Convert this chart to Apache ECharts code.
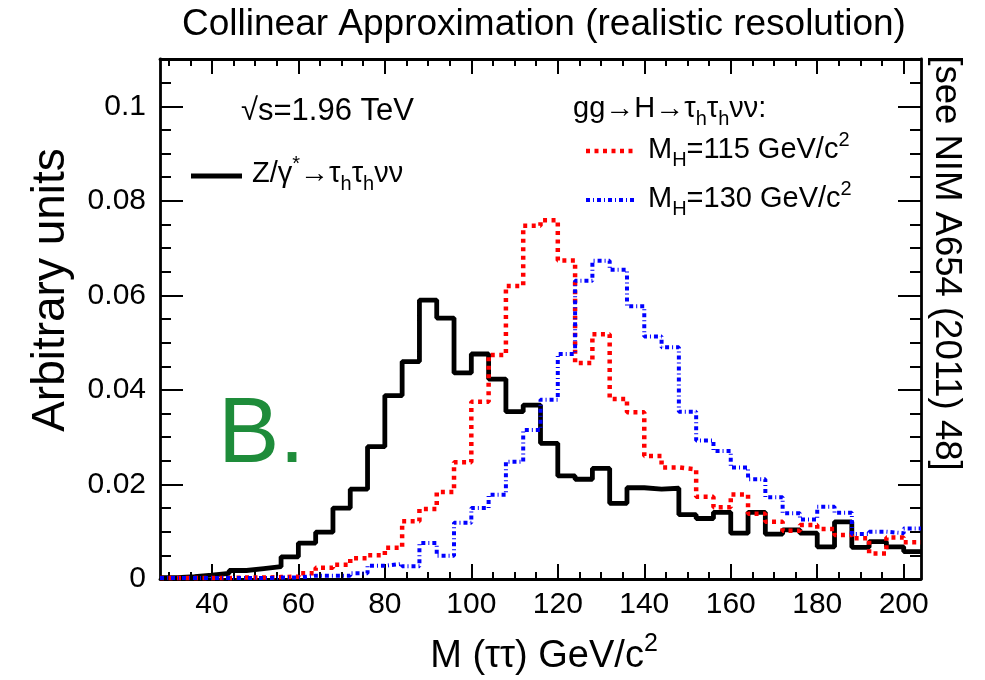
<!DOCTYPE html>
<html><head><meta charset="utf-8">
<script src="https://cdn.jsdelivr.net/npm/echarts@6/dist/echarts.min.js"></script>
<style>html,body{margin:0;padding:0;background:#fff}#c{width:985px;height:680px}</style>
</head><body><div id="c"></div>
<script>
// ---- data (bins of 4 GeV, lower edges) ----
const binLow = [28,32,36,40,44,48,52,56,60,64,68,72,76,80,84,88,92,96,100,104,108,112,116,120,124,128,132,136,140,144,148,152,156,160,164,168,172,176,180,184,188,192,196,200];
const binHigh = 204;
const zBkg = [0.0003,0.0005,0.0008,0.0012,0.0018,0.0022,0.0026,0.0047,0.0076,0.0099,0.0150,0.0190,0.0280,0.0388,0.0460,0.0590,0.0552,0.0436,0.0476,0.0423,0.0354,0.0368,0.0287,0.0218,0.0211,0.0234,0.0160,0.0193,0.0190,0.0192,0.0136,0.0128,0.0141,0.0097,0.0141,0.0095,0.0104,0.0097,0.0068,0.0121,0.0067,0.0079,0.0068,0.0058];
const h115 = [0.0002,0.0002,0.0002,0.0002,0.0003,0.0003,0.0004,0.0005,0.0012,0.0024,0.0030,0.0044,0.0050,0.0066,0.0122,0.0148,0.0184,0.0247,0.0375,0.0474,0.0620,0.0747,0.0759,0.0674,0.0457,0.0518,0.0381,0.0353,0.0260,0.0236,0.0232,0.0174,0.0152,0.0179,0.0138,0.0121,0.0102,0.0114,0.0106,0.0093,0.0086,0.0054,0.0088,0.0078];
const h130 = [0.0002,0.0002,0.0002,0.0002,0.0002,0.0002,0.0003,0.0003,0.0007,0.0007,0.0007,0.0012,0.0028,0.0032,0.0027,0.0076,0.0049,0.0119,0.0150,0.0178,0.0248,0.0315,0.0379,0.0476,0.0631,0.0673,0.0654,0.0577,0.0513,0.0490,0.0354,0.0293,0.0271,0.0236,0.0211,0.0173,0.0139,0.0126,0.0153,0.0140,0.0095,0.0100,0.0097,0.0107];
const xMajorTicks = [40,60,80,100,120,140,160,180,200];
const xMinorTicks = [30,35,45,50,55,65,70,75,85,90,95,105,110,115,125,130,135,145,150,155,165,170,175,185,190,195];
const yMajorTicks = [0,0.02,0.04,0.06,0.08,0.1];
const yMinorTicks = [0.005,0.01,0.015,0.025,0.03,0.035,0.045,0.05,0.055,0.065,0.07,0.075,0.085,0.09,0.095,0.105];

const FONT = "'Liberation Sans', Arial, Helvetica, sans-serif";
const chart = echarts.init(document.getElementById('c'), null, {renderer: 'canvas'});

function hist(vals) {
  const pts = binLow.map((x, i) => [x, vals[i]]);
  pts.push([binHigh, vals[vals.length - 1]]);
  return pts;
}
const X0 = binLow[0], X1 = binHigh;
function xAx(pos, ticks, len, labels, line) {
  return {
    type: 'value', min: X0, max: X1, position: pos,
    axisLine: {show: line, onZero: false, lineStyle: {color: '#000', width: 2.8}},
    axisTick: {show: true, inside: true, length: len, customValues: ticks, lineStyle: {color: '#000', width: 2}},
    axisLabel: {show: labels, customValues: ticks, margin: 11, fontSize: 30, color: '#000', fontFamily: FONT},
    splitLine: {show: false}, minorTick: {show: false}
  };
}
function yAx(pos, ticks, len, labels, line) {
  return {
    type: 'value', min: 0, max: 0.11, position: pos,
    axisLine: {show: line, onZero: false, lineStyle: {color: '#000', width: 2.8}},
    axisTick: {show: true, inside: true, length: len, customValues: ticks, lineStyle: {color: '#000', width: 2}},
    axisLabel: {show: labels, customValues: ticks, margin: 14, fontSize: 30, color: '#000', fontFamily: FONT,
      formatter: v => (v === 0 ? '0' : String(v))},
    splitLine: {show: false}, minorTick: {show: false}
  };
}
const subRich = {
  m: {fontSize: 29, fontFamily: FONT, lineHeight: 40, fill: '#000', color: '#000'},
  sub: {fontSize: 20, fontFamily: FONT, lineHeight: 20, verticalAlign: 'bottom', fill: '#000', color: '#000'},
  sup: {fontSize: 20, fontFamily: FONT, lineHeight: 20, verticalAlign: 'top', fill: '#000', color: '#000'}
};
function txt(x, y, text, size, opts) {
  const o = opts || {};
  return {
    type: 'text', x: x, y: y, silent: true, rotation: o.rotation || 0,
    style: {text: text, fill: o.fill || '#000', fontSize: size, fontFamily: FONT,
      align: o.align || 'left', textAlign: o.align || 'left', verticalAlign: 'middle', textVerticalAlign: 'middle'}
  };
}
function richTxt(x, y, text, align, rich) {
  return {
    type: 'text', x: x, y: y, silent: true,
    style: {text: text, rich: rich || subRich, fill: '#000', fontSize: 29, fontFamily: FONT,
      align: align || 'left', textAlign: align || 'left', verticalAlign: 'middle', textVerticalAlign: 'middle'}
  };
}
const xTitleRich = {
  m: {fontSize: 38, fontFamily: FONT, lineHeight: 50, fill: '#000', color: '#000'},
  sup: {fontSize: 25, fontFamily: FONT, lineHeight: 26, verticalAlign: 'top', fill: '#000', color: '#000'}
};

const option = {
  animation: false,
  backgroundColor: '#fff',
  grid: {left: 160, right: 64, top: 59, bottom: 101, containLabel: false},
  xAxis: [
    xAx('bottom', xMajorTicks, 15, true, true),
    xAx('bottom', xMinorTicks, 7, false, false),
    xAx('top', xMajorTicks, 15, false, true),
    xAx('top', xMinorTicks, 7, false, false)
  ],
  yAxis: [
    yAx('left', yMajorTicks, 23, true, true),
    yAx('left', yMinorTicks, 11, false, false),
    yAx('right', yMajorTicks, 23, false, true),
    yAx('right', yMinorTicks, 11, false, false)
  ],
  series: [
    {name: 'Z', type: 'line', step: 'end', data: hist(zBkg), showSymbol: false, symbol: 'none',
      lineStyle: {color: '#000', width: 4.8}, z: 3},
    {name: 'H115', type: 'line', step: 'end', data: hist(h115), showSymbol: false, symbol: 'none',
      lineStyle: {color: '#ff0000', width: 4.5, type: [4, 4.5]}, z: 4},
    {name: 'H130', type: 'line', step: 'end', data: hist(h130), showSymbol: false, symbol: 'none',
      lineStyle: {color: '#0000ff', width: 4, type: [4, 3, 1, 3]}, z: 5}
  ],
  graphic: {elements: [
    txt(544, 25, 'Collinear Approximation (realistic resolution)', 37, {align: 'center'}),
    txt(51, 290, 'Arbitrary units', 46, {align: 'center', rotation: Math.PI / 2}),
    txt(946, 263, '[see NIM A654 (2011) 48]', 36.5, {align: 'center', rotation: -Math.PI / 2}),
    richTxt(544, 657, '{m|M (ττ) GeV/c}{sup|2}', 'center', xTitleRich),
    txt(218, 437, 'B.', 92, {fill: '#1e8c3a'}),
    txt(241, 111, '√s=1.96 TeV', 31),
    {type: 'line', silent: true, shape: {x1: 191, y1: 176, x2: 242, y2: 176}, style: {stroke: '#000', lineWidth: 4.8}},
    richTxt(252, 174, '{m|Z/γ}{sup|*}{m|→τ}{sub|h}{m|τ}{sub|h}{m|νν}'),
    richTxt(573, 109, '{m|gg→H→τ}{sub|h}{m|τ}{sub|h}{m|νν:}'),
    {type: 'line', silent: true, shape: {x1: 586, y1: 151, x2: 637, y2: 151}, style: {stroke: '#ff0000', lineWidth: 4.5, lineDash: [4, 4.5]}},
    richTxt(648, 150, '{m|M}{sub|H}{m|=115 GeV/c}{sup|2}'),
    {type: 'line', silent: true, shape: {x1: 586, y1: 200, x2: 637, y2: 200}, style: {stroke: '#0000ff', lineWidth: 4, lineDash: [4, 3, 1, 3]}},
    richTxt(648, 199, '{m|M}{sub|H}{m|=130 GeV/c}{sup|2}')
  ]}
};
chart.setOption(option);
</script></body></html>
